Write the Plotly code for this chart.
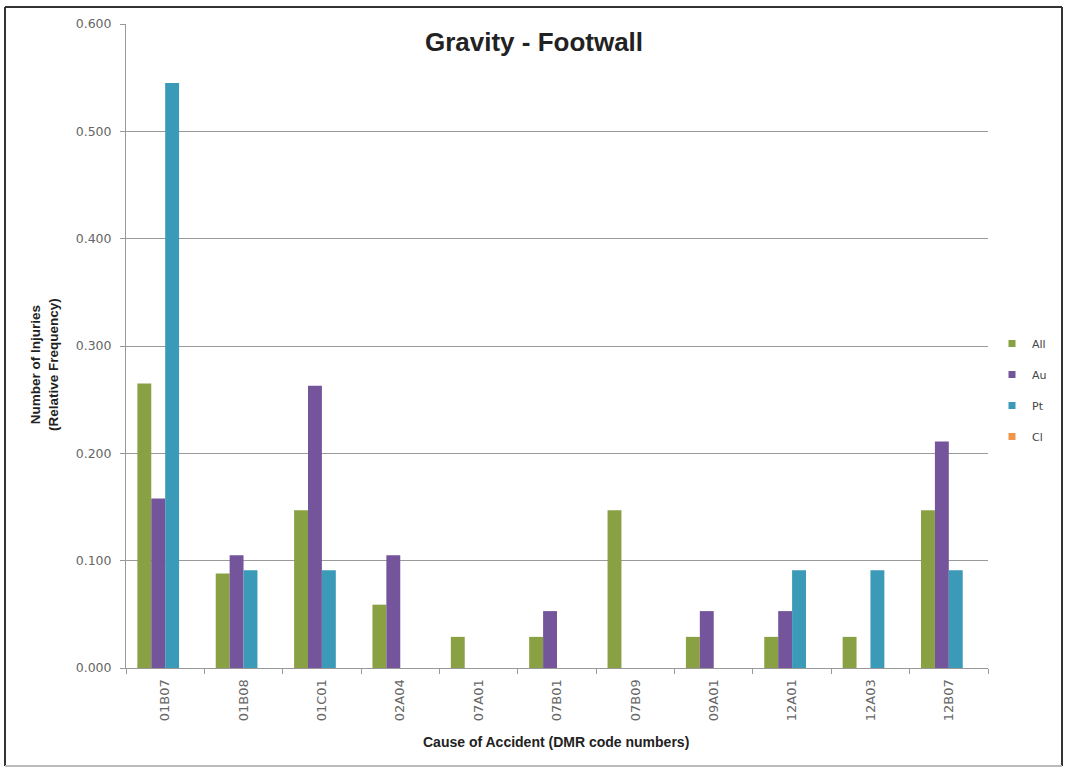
import plotly.graph_objects as go

categories = ["01B07", "01B08", "01C01", "02A04", "07A01", "07B01", "07B09", "09A01", "12A01", "12A03", "12B07"]
all_vals = [0.265, 0.088, 0.147, 0.059, 0.029, 0.029, 0.147, 0.029, 0.029, 0.029, 0.147]
au_vals = [0.158, 0.105, 0.263, 0.105, 0.0, 0.053, 0.0, 0.053, 0.053, 0.0, 0.211]
pt_vals = [0.545, 0.091, 0.091, 0.0, 0.0, 0.0, 0.0, 0.0, 0.091, 0.091, 0.091]
cl_vals = [0.0] * 11
y_ticks = [0.0, 0.1, 0.2, 0.3, 0.4, 0.5, 0.6]

series = [
    ("All", all_vals, "#89A143"),
    ("Au", au_vals, "#74559C"),
    ("Pt", pt_vals, "#3A9AB8"),
    ("Cl", cl_vals, "#F0954A"),
]

W, H = 1065, 769
L, R, T, B = 126, 988, 24, 668
pw, ph = R - L, B - T

fig = go.Figure()
for name, vals, color in series:
    fig.add_trace(go.Bar(x=categories, y=vals, name=name, showlegend=False,
                         marker=dict(color=color, line=dict(width=0))))
for name, vals, color in series:
    fig.add_trace(go.Scatter(x=[None], y=[None], mode="markers", name=name, legendgroup=name,
                             marker=dict(symbol="square", size=7, color=color)))

fig.update_layout(
    width=W, height=H,
    paper_bgcolor="white", plot_bgcolor="white",
    margin=dict(l=L, r=W - R, t=T, b=H - B, autoexpand=False),
    barmode="group", bargap=0.29, bargroupgap=0,
    font=dict(family="DejaVu Sans", color="#555555"),
    title=dict(text="<b>Gravity - Footwall</b>", x=534 / W, xanchor="center", y=1 - 42 / H, yanchor="middle",
               font=dict(family="Liberation Sans", size=26, color="#222222")),
    legend=dict(x=(992 - L) / pw, xanchor="left", y=(B - 390) / ph, yanchor="middle", orientation="v",
                font=dict(family="DejaVu Sans", size=11, color="#444444"),
                itemwidth=30, tracegroupgap=12, bgcolor="rgba(0,0,0,0)"),
    showlegend=True,
)
fig.update_xaxes(
    type="category", tickson="boundaries", ticks="outside", ticklen=5, tickcolor="#999999",
    showline=True, linecolor="#999999", linewidth=1, tickangle=-90, ticklabelstandoff=5,
    tickfont=dict(family="DejaVu Sans", size=13, color="#666666"),
    showgrid=False,
)
fig.update_yaxes(
    range=[0, 0.6], tickvals=y_ticks, tickformat=".3f", ticks="outside", ticklen=5, tickcolor="#999999",
    showline=True, linecolor="#999999", linewidth=1, gridcolor="#9a9a9a", gridwidth=1,
    tickfont=dict(family="DejaVu Sans", size=12.5, color="#666666"), ticklabelstandoff=6,
    zeroline=False,
)
fig.add_annotation(text="<b>Cause of Accident (DMR code numbers)</b>", xref="paper", yref="paper",
                   x=(556 - L) / pw, y=(B - 742) / ph, xanchor="center", yanchor="middle", showarrow=False,
                   font=dict(family="Liberation Sans", size=14, color="#222222"))
fig.add_annotation(text="<b>Number of Injuries<br>(Relative Frequency)</b>", xref="paper", yref="paper",
                   x=(44 - L) / pw, y=(B - 365) / ph, xanchor="center", yanchor="middle", showarrow=False,
                   textangle=-90, font=dict(family="Liberation Sans", size=13.5, color="#222222"))
# outer frame
fx0, fx1 = (5 - L) / pw, (1062 - L) / pw
fy0, fy1 = (B - 766) / ph, (B - 7) / ph
for x0, y0, x1, y1, col in [(fx0, fy0, fx0, fy1, "#333333"), (fx0, fy1, fx1, fy1, "#333333"),
                            (fx1, fy1, fx1, fy0, "#333333"), (fx0, fy0, fx1, fy0, "#bbbbbb")]:
    fig.add_shape(type="line", xref="paper", yref="paper", x0=x0, y0=y0, x1=x1, y1=y1,
                  line=dict(color=col, width=2), layer="below")
fig.write_html("out.html", config={"displayModeBar": False},
               post_script="document.body.style.margin='0';")
